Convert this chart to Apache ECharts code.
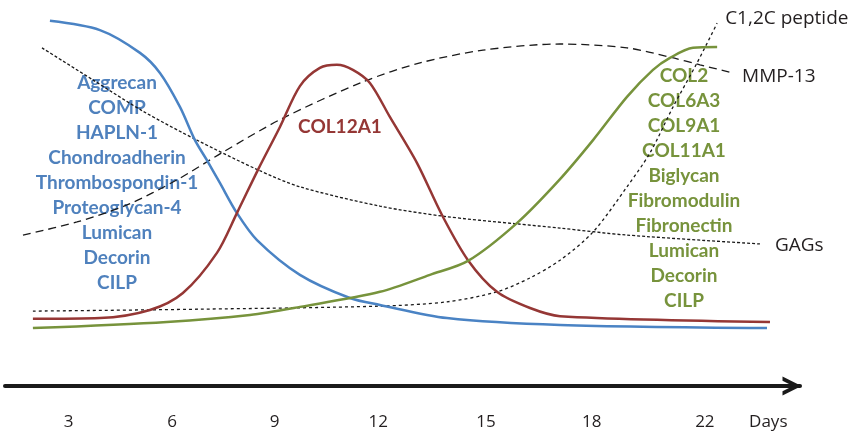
<!DOCTYPE html>
<html>
<head>
<meta charset="utf-8">
<script src="https://cdn.jsdelivr.net/npm/echarts@6/dist/echarts.min.js"></script>
<style>
  html, body { margin: 0; padding: 0; background: #fff; }
  #chart { width: 862px; height: 437px; }
</style>
</head>
<body>
<div id="chart"></div>
<script>
// x = stage position along the time arrow (0 = day 3 ... 6 = day 22), y = relative level 0-100
const tickStage = [0.03, 1.01, 1.98, 2.96, 3.98, 4.98, 6.05, 6.65];
const tickLabels = ['3', '6', '9', '12', '15', '18', '22', 'Days'];

const earlyGenes = ['Aggrecan', 'COMP', 'HAPLN-1', 'Chondroadherin', 'Thrombospondin-1',
  'Proteoglycan-4', 'Lumican', 'Decorin', 'CILP'];
const midGenes = ['COL12A1'];
const lateGenes = ['COL2', 'COL6A3', 'COL9A1', 'COL11A1', 'Biglycan', 'Fibromodulin',
  'Fibronectin', 'Lumican', 'Decorin', 'CILP'];

const earlyCurve = [[-0.146, 94.6], [0.327, 92.2], [0.706, 86.3], [0.895, 81.1], [1.084, 72.3],
  [1.226, 63.7], [1.339, 58.5], [1.462, 52.6], [1.623, 44.8], [1.813, 37.8], [2.219, 28.8],
  [2.692, 22.8], [2.976, 21.0], [3.61, 17.6], [4.68, 15.8], [6.638, 15.0]];
const midCurve = [[-0.307, 17.4], [0.327, 17.6], [0.8, 19.7], [1.112, 24.1], [1.434, 34.5],
  [1.623, 44.8], [1.822, 56.0], [2.03, 67.1], [2.219, 77.7], [2.408, 82.4], [2.569, 83.2],
  [2.72, 81.9], [2.881, 78.5], [3.07, 69.7], [3.326, 57.8], [3.563, 44.3], [3.809, 32.6],
  [4.083, 24.4], [4.396, 20.2], [4.68, 18.1], [6.666, 16.6]];
const lateCurve = [[-0.307, 15.0], [0.96, 16.6], [1.746, 18.4], [2.219, 20.5], [2.976, 24.4],
  [3.449, 28.8], [3.809, 32.4], [4.272, 42.2], [4.68, 53.6], [4.992, 63.7], [5.313, 74.9],
  [5.559, 81.9], [5.72, 85.0], [5.938, 87.6], [6.166, 87.8]];
const mmp13 = [[-0.401, 39.1], [0.11, 42.5], [0.583, 46.9], [1.056, 53.4], [1.491, 60.6],
  [2.059, 69.4], [2.816, 78.8], [3.355, 83.7], [3.951, 87.0], [4.68, 88.6], [5.313, 87.6],
  [5.72, 85.2], [6.004, 83.2], [6.317, 81.1]];
const gags = [[-0.221, 87.6], [0.261, 79.3], [0.734, 71.2], [1.245, 63.7], [1.822, 56.0],
  [2.219, 51.6], [2.976, 46.6], [3.572, 44.0], [4.272, 42.0], [4.68, 40.9], [5.313, 39.1],
  [6.571, 36.8]];
const c12c = [[-0.307, 19.4], [1.273, 19.9], [2.976, 20.7], [3.61, 21.8], [4.083, 24.4],
  [4.396, 28.0], [4.68, 32.6], [4.992, 39.9], [5.313, 51.6], [5.531, 60.4], [5.749, 72.3],
  [5.976, 83.7], [6.166, 94.0]];

const chart = echarts.init(document.getElementById('chart'));

function solid(name, data, color) {
  return {
    name: name, type: 'line', data: data, smooth: 0.3, showSymbol: false,
    lineStyle: {color: color, width: 2.5}, z: 3
  };
}

function dashed(name, data, dash, offset) {
  return {
    name: name, type: 'line', data: data, smooth: 0.3, showSymbol: false,
    lineStyle: {color: '#1a1a1a', width: 1.3, type: dash},
    endLabel: {
      show: true, formatter: '{a}', color: '#231f20', fontSize: 19,
      fontFamily: 'Open Sans', offset: offset
    },
    z: 2
  };
}

function textBlock(lines, x, y, color) {
  return {
    type: 'text', x: x, y: y,
    style: {
      text: lines.join('\n'), fill: color, fontSize: 19, fontWeight: 'bold',
      fontFamily: 'Lato', lineHeight: 25, align: 'center', verticalAlign: 'top'
    }
  };
}

chart.setOption({
  animation: false,
  grid: {left: 5, right: 62, top: 0, bottom: 51},
  xAxis: {
    type: 'value', min: -0.571, max: 6.95,
    splitLine: {show: false},
    axisTick: {show: false},
    axisLine: {
      onZero: false,
      symbol: ['none', 'path://M0,20 L10,0 L20,20 L15.5,20 L10,9 L4.5,20 Z'],
      symbolSize: [20, 19],
      symbolOffset: [0, -8],
      lineStyle: {color: '#1a1a1a', width: 4}
    },
    axisLabel: {
      customValues: tickStage,
      formatter: function (v) { return tickLabels[tickStage.indexOf(v)]; },
      color: '#231f20', fontSize: 17, fontFamily: 'Open Sans', margin: 28
    }
  },
  yAxis: {type: 'value', min: 0, max: 100, show: false},
  series: [
    solid('early', earlyCurve, '#4a83c4'),
    solid('mid', midCurve, '#953735'),
    solid('late', lateCurve, '#77933c'),
    dashed('C1,2C peptide', c12c, [3, 3], [0, -5]),
    dashed('MMP-13', mmp13, [8, 5], [1, 4]),
    dashed('GAGs', gags, [3, 2], [7, 2])
  ],
  graphic: [
    textBlock(earlyGenes, 117, 70, '#4f81bd'),
    textBlock(midGenes, 340, 114, '#953735'),
    textBlock(lateGenes, 684, 63, '#77933c')
  ]
});
</script>
</body>
</html>
